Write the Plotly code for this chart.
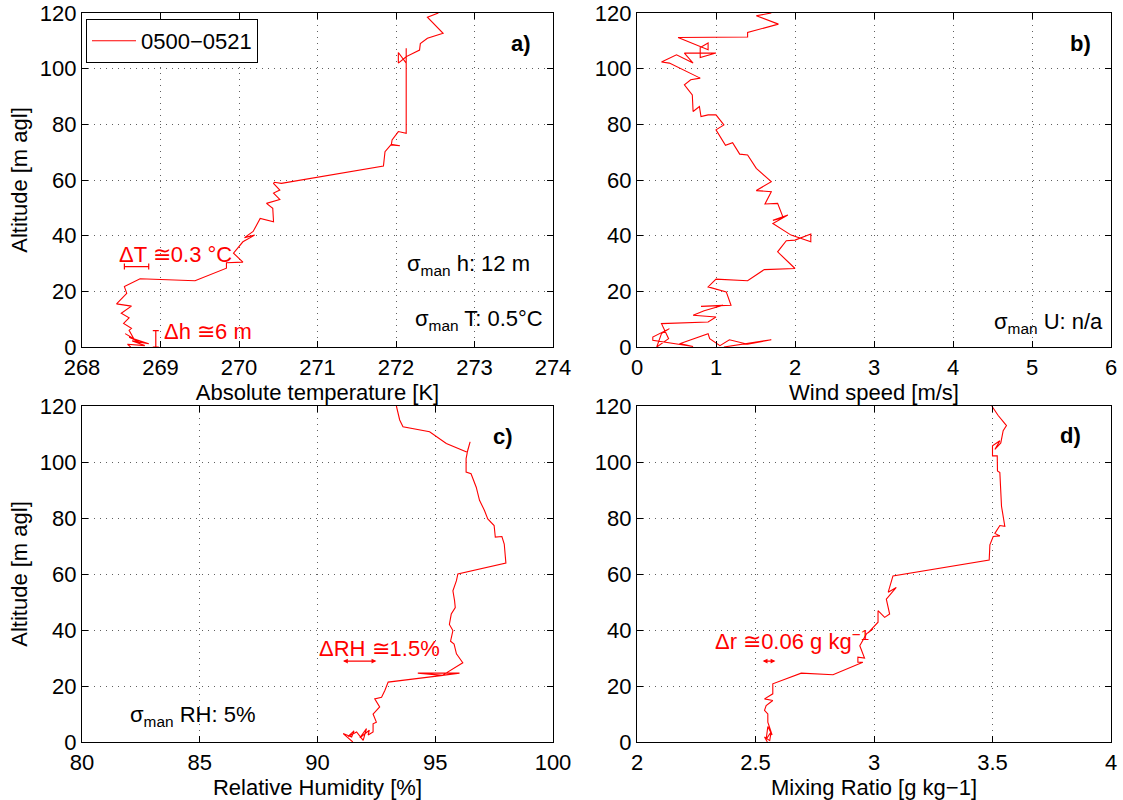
import plotly.graph_objects as go

# ---------------- data ----------------
alt_T = [0.0, 1.0, 0.5, 2.2, 1.2, 3.5, 2.0, 4.8, 3.0, 6.0,
         6.7, 8.5, 10.5, 12.1, 14.7, 15.5, 19.3, 21.7, 24.5, 23.8,
         28.3, 30.3, 30.5, 33.7, 37.8, 40.2, 39.3, 41.5, 46.2, 45.0,
         49.8, 51.6, 53.0, 55.3, 56.4, 58.8, 59.2, 58.8, 65.0, 70.2,
         72.8, 72.3, 72.6, 74.4, 77.4, 76.8, 104.3, 102.0, 105.8, 102.0,
         107.3, 104.3, 106.7, 109.0, 110.9, 112.7, 118.5, 120.0]
temp = [268.62, 268.58, 268.80, 268.64, 268.85, 268.60, 268.72, 268.55, 268.66, 268.60,
        268.63, 268.53, 268.60, 268.50, 268.63, 268.44, 268.57, 268.54, 268.74, 269.44,
        269.84, 269.84, 270.05, 269.93, 270.05, 270.20, 270.07, 270.18, 270.27, 270.44,
        270.43, 270.35, 270.52, 270.44, 270.52, 270.44, 270.45, 270.54, 271.84, 271.86,
        271.94, 272.05, 271.94, 271.95, 272.03, 272.13, 272.13, 272.03, 272.03, 272.13,
        272.13, 272.13, 272.30, 272.31, 272.40, 272.60, 272.40, 272.54]

alt_U = [0.0, 2.6, 1.0, 2.6, 0.5, 3.0, 4.8, 1.2, 0.2, 2.4,
         3.6, 6.6, 4.8, 0.0, 3.0, 8.4, 9.0, 10.8, 11.4, 13.0,
         15.0, 14.6, 15.0, 19.8, 21.6, 24.4, 23.8, 27.8, 28.2, 34.2,
         38.2, 38.4, 40.6, 37.8, 40.2, 44.4, 47.4, 45.5, 46.5, 51.6,
         51.4, 55.8, 56.2, 59.4, 64.2, 69.0, 69.3, 73.4, 72.5, 78.0,
         79.8, 83.4, 83.4, 82.8, 86.4, 84.6, 90.6, 94.2, 96.0, 96.6,
         99.8, 102.0, 102.4, 105.0, 102.0, 105.6, 105.6, 104.0, 107.6, 109.2,
         106.8, 111.2, 111.4, 113.0, 116.0, 119.0, 120.0]
wind = [1.10, 1.70, 1.40, 1.17, 1.05, 0.92, 0.90, 0.54, 0.71, 0.20,
        0.20, 0.41, 0.31, 0.25, 0.40, 0.31, 0.90, 1.00, 0.71, 0.85,
        1.09, 0.81, 1.19, 1.13, 0.90, 1.00, 1.40, 1.61, 2.00, 1.78,
        1.89, 2.00, 2.20, 2.20, 1.95, 1.72, 1.91, 1.72, 1.85, 1.78,
        1.62, 1.70, 1.51, 1.70, 1.51, 1.40, 1.30, 1.21, 1.12, 1.00,
        1.10, 1.00, 0.90, 0.81, 0.79, 0.71, 0.70, 0.60, 0.68, 0.80,
        0.58, 0.41, 0.31, 0.50, 0.71, 0.60, 1.00, 0.80, 0.80, 0.90,
        0.90, 0.52, 1.40, 1.40, 1.79, 1.51, 1.70]

alt_RH = [0.0, 3.0, 1.8, 4.0, 2.0, 3.6, 0.6, 4.8, 1.5, 4.2,
          2.5, 3.6, 6.5, 7.1, 10.0, 12.5, 15.4, 16.0, 18.4, 21.4,
          23.8, 24.6, 24.6, 23.8, 28.3, 31.5, 35.0, 36.0, 39.8, 42.0,
          45.7, 48.0, 50.5, 54.0, 57.6, 60.0, 63.9, 70.7, 73.4, 73.2,
          77.3, 79.7, 82.7, 86.3, 91.0, 95.8, 96.4, 101.2, 104.2, 107.2,
          103.5, 106.6, 110.8, 112.6, 115.0, 120.0]
rh = [91.50, 91.09, 91.45, 91.55, 91.30, 91.66, 91.94, 92.08, 91.80, 92.20,
      92.15, 92.36, 92.36, 92.50, 92.36, 92.64, 92.43, 92.72, 92.86, 93.00,
      95.32, 94.26, 96.03, 95.30, 96.17, 95.90, 95.80, 95.65, 95.75, 95.60,
      95.68, 95.85, 95.82, 95.75, 95.90, 95.96, 98.00, 97.93, 97.83, 97.55,
      97.50, 97.23, 97.09, 96.88, 96.74, 96.52, 96.31, 96.31, 96.38, 96.48,
      96.36, 95.47, 94.76, 93.63, 93.49, 93.35]

alt_r = [0.0, 1.8, 0.5, 3.6, 1.0, 5.5, 2.5, 7.1, 10.0, 11.3,
         13.0, 14.8, 15.4, 17.2, 20.8, 24.6, 24.0, 28.5, 28.5, 30.3,
         30.0, 34.4, 38.6, 40.4, 39.0, 42.8, 46.9, 44.5, 45.7, 51.0,
         55.2, 53.5, 59.3, 65.0, 70.4, 73.4, 73.6, 74.5, 77.3, 77.0,
         84.2, 96.2, 96.8, 102.2, 102.2, 105.8, 107.6, 104.5, 106.8, 111.2,
         113.0, 116.6, 119.0, 120.0]
mix = [2.550, 2.538, 2.560, 2.566, 2.545, 2.552, 2.570, 2.552, 2.552, 2.538,
       2.545, 2.573, 2.538, 2.573, 2.573, 2.693, 2.827, 2.953, 2.932, 2.932,
       2.960, 2.940, 2.968, 2.996, 2.975, 3.017, 3.017, 3.045, 3.066, 3.052,
       3.094, 3.060, 3.080, 3.486, 3.489, 3.503, 3.531, 3.510, 3.531, 3.552,
       3.538, 3.531, 3.521, 3.520, 3.500, 3.500, 3.531, 3.510, 3.535, 3.545,
       3.559, 3.524, 3.503, 3.497]

x_titles = ["Absolute temperature [K]", "Wind speed [m/s]",
            "Relative Humidity [%]", "Mixing Ratio [g kg\u22121]"]
x_ranges = [[268, 274], [0, 6], [80, 100], [2, 4]]
x_dticks = [1, 1, 5, 0.5]
y_title = "Altitude [m agl]"
legend_name = "0500\u22120521"

RED = "#ff0000"
FONT = "Liberation Sans, Arial, Helvetica, sans-serif"
FS = 22

fig = go.Figure()
series = [(temp, alt_T), (wind, alt_U), (rh, alt_RH), (mix, alt_r)]
for i, (xv, yv) in enumerate(series):
    sfx = "" if i == 0 else str(i + 1)
    fig.add_trace(go.Scatter(x=xv, y=yv, mode="lines",
                             line=dict(color=RED, width=1.1),
                             name=legend_name, showlegend=(i == 0),
                             xaxis="x" + sfx, yaxis="y" + sfx))

# error-bar style indicators in panel a
fig.add_trace(go.Scatter(x=[268.695], y=[28.9], mode="markers",
                         marker=dict(size=1, color=RED, opacity=0),
                         error_x=dict(type="data", array=[0.155], color=RED, thickness=1.2, width=3),
                         showlegend=False, hoverinfo="skip", xaxis="x", yaxis="y"))
fig.add_trace(go.Scatter(x=[268.94], y=[2.95], mode="markers",
                         marker=dict(size=1, color=RED, opacity=0),
                         error_y=dict(type="data", array=[2.95], color=RED, thickness=1.2, width=3),
                         showlegend=False, hoverinfo="skip", xaxis="x", yaxis="y"))

W, H = 1123, 800
def dx(a, b):
    return [a / W, b / W]
def dy(top, bottom):
    return [1 - bottom / H, 1 - top / H]

xdom = [dx(82, 553), dx(637, 1111), dx(82, 553), dx(637, 1111)]
ydom = [dy(13, 347), dy(13, 347), dy(406, 742), dy(406, 742)]

common = dict(showline=True, linecolor="black", linewidth=1.3, mirror="allticks",
              ticks="inside", ticklen=6, tickcolor="black", showgrid=True,
              gridcolor="#606060", griddash="1px,5px", gridwidth=1, zeroline=False,
              automargin=False, ticklabeloverflow="allow",
              tickfont=dict(size=FS, color="black", family=FONT))

layout = dict(width=W, height=H, margin=dict(l=0, r=0, t=0, b=0, autoexpand=False),
              plot_bgcolor="white", paper_bgcolor="white",
              font=dict(family=FONT, size=FS, color="black"))
for i in range(4):
    sfx = "" if i == 0 else str(i + 1)
    layout["xaxis" + sfx] = dict(domain=xdom[i], range=x_ranges[i], dtick=x_dticks[i],
                                 anchor="y" + sfx,
                                 title=dict(text=x_titles[i], font=dict(size=FS), standoff=2),
                                 **common)
    layout["yaxis" + sfx] = dict(domain=ydom[i], range=[0, 120], dtick=20,
                                 anchor="x" + sfx,
                                 title=dict(text=y_title if i in (0, 2) else "",
                                            font=dict(size=FS), standoff=6),
                                 **common)
fig.update_layout(**layout)

fig.update_layout(legend=dict(x=86 / W, y=1 - 19 / H, xanchor="left", yanchor="top",
                              bgcolor="white", bordercolor="black", borderwidth=1,
                              font=dict(size=FS), itemwidth=44,
                              tracegroupgap=0))

ann = []
def txt(x, y, text, ax_i, xanchor="left", color="black", bold=False):
    sfx = "" if ax_i == 0 else str(ax_i + 1)
    ann.append(dict(x=x, y=y, xref="x" + sfx, yref="y" + sfx, text=("<b>%s</b>" % text) if bold else text,
                    showarrow=False, xanchor=xanchor, yanchor="middle",
                    font=dict(size=FS, color=color, family=FONT)))

txt(273.75, 109.2, "a)", 0, "right", bold=True)
txt(5.77, 109.0, "b)", 1, "right", bold=True)
txt(98.4, 109.0, "c)", 2, "right", bold=True)
txt(3.88, 109.6, "d)", 3, "right", bold=True)

txt(273.73, 29.5, "\u03c3<sub>man</sub> h: 12 m", 0, "right")
txt(273.9, 9.8, "\u03c3<sub>man</sub> T: 0.5\u00b0C", 0, "right")
txt(5.92, 8.8, "\u03c3<sub>man</sub> U: n/a", 1, "right")
txt(81.95, 9.2, "\u03c3<sub>man</sub> RH: 5%", 2, "left")

txt(268.44, 33.2, "\u0394T \u22450.3 \u00b0C", 0, "left", color=RED)
txt(269.02, 5.5, "\u0394h \u22456 m", 0, "left", color=RED)
txt(89.97, 33.5, "\u0394RH \u22451.5%", 2, "left", color=RED)
txt(2.32, 36.4, "\u0394r \u22450.06 g kg<sup>\u22121</sup>", 3, "left", color=RED)

for (x0, x1, y, k) in [(91.02, 92.5, 28.9, 2), (2.524, 2.584, 28.9, 3)]:
    sfx = str(k + 1)
    ann.append(dict(x=x1, y=y, ax=x0, ay=y, xref="x" + sfx, yref="y" + sfx,
                    axref="x" + sfx, ayref="y" + sfx, text="", showarrow=True,
                    arrowside="end+start", arrowhead=2, arrowsize=0.8,
                    arrowwidth=1.2, arrowcolor=RED))

fig.update_layout(annotations=ann)
# remove the browser's default 8px page margin so the figure sits at (0, 0)
fig.write_html("out.html", config={"displayModeBar": False},
               post_script="document.body.style.margin='0px';document.body.style.overflow='hidden';")
